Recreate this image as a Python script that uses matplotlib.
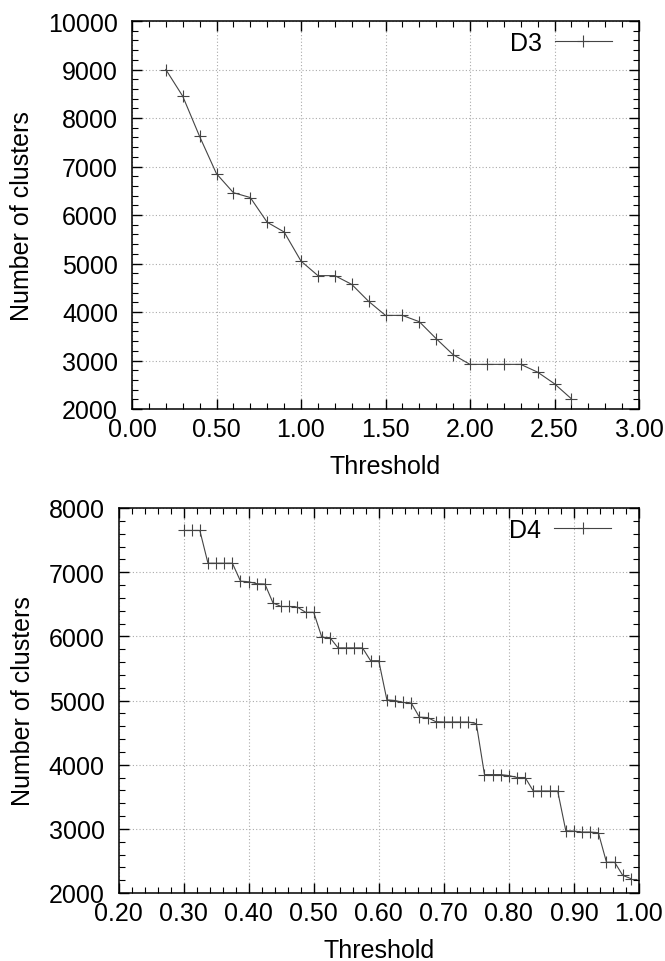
import matplotlib

matplotlib.use('Agg')

import matplotlib.pyplot as plt
from matplotlib.ticker import MultipleLocator, FormatStrFormatter

plt.rcParams['font.family'] = ['Liberation Sans', 'DejaVu Sans']

# D3 data
d3_thr = [0.2, 0.3, 0.4, 0.5, 0.6, 0.7, 0.8, 0.9, 1.0, 1.1, 1.2, 1.3, 1.4,
          1.5, 1.6, 1.7, 1.8, 1.9, 2.0, 2.1, 2.2, 2.3, 2.4, 2.5, 2.6]
d3_clusters = [9000, 8450, 7620, 6850, 6460, 6360, 5850, 5650, 5050, 4750,
               4750, 4570, 4220, 3930, 3930, 3800, 3450, 3120, 2920, 2920,
               2920, 2920, 2760, 2520, 2210]

# D4 data
d4_thr = [0.3, 0.3125, 0.325, 0.3375, 0.35, 0.3625, 0.375, 0.3875, 0.4,
          0.4125, 0.425, 0.4375, 0.45, 0.4625, 0.475, 0.4875, 0.5, 0.5125,
          0.525, 0.5375, 0.55, 0.5625, 0.575, 0.5875, 0.6, 0.6125, 0.625,
          0.6375, 0.65, 0.6625, 0.675, 0.6875, 0.7, 0.7125, 0.725, 0.7375,
          0.75, 0.7625, 0.775, 0.7875, 0.8, 0.8125, 0.825, 0.8375, 0.85,
          0.8625, 0.875, 0.8875, 0.9, 0.9125, 0.925, 0.9375, 0.95, 0.9625,
          0.975, 0.9875]
d4_clusters = [7650, 7650, 7650, 7140, 7140, 7140, 7140, 6860, 6850, 6820,
               6815, 6520, 6465, 6465, 6455, 6375, 6375, 5985, 5980, 5820,
               5820, 5820, 5820, 5620, 5620, 5010, 5000, 4970, 4960, 4740,
               4735, 4670, 4665, 4665, 4665, 4665, 4640, 3845, 3845, 3845,
               3830, 3800, 3800, 3590, 3590, 3590, 3590, 2970, 2965, 2950,
               2950, 2940, 2480, 2480, 2275, 2225]

W, H = 665, 962
fig = plt.figure(figsize=(W / 100, H / 100), dpi=100)

# axes rectangles in pixels: left, top, right, bottom
ax1 = fig.add_axes([132 / W, 1 - 410 / H, (639 - 132) / W, (410 - 22) / H])
ax2 = fig.add_axes([118.5 / W, 1 - 894 / H, (639 - 118.5) / W, (894 - 509) / H])

FS = 18
line_kw = dict(color='#444444', lw=0.8, marker='+', ms=9, mew=0.8)


def style(ax, xlim, xmaj, xmin, xfmt, ylim):
    ax.set_xlim(*xlim)
    ax.set_ylim(*ylim)
    ax.xaxis.set_major_locator(MultipleLocator(xmaj))
    ax.xaxis.set_minor_locator(MultipleLocator(xmin))
    ax.xaxis.set_major_formatter(FormatStrFormatter(xfmt))
    ax.yaxis.set_major_locator(MultipleLocator(1000))
    ax.yaxis.set_minor_locator(MultipleLocator(200))
    ax.tick_params(which='both', direction='in', top=True, right=True,
                   labelsize=FS, colors='black')
    ax.tick_params(which='major', length=7, width=1)
    ax.tick_params(which='minor', length=4, width=0.8)
    ax.tick_params(axis='x', which='major', pad=6)
    ax.tick_params(axis='y', which='major', pad=10)
    ax.grid(True, which='major', color='#aaaaaa', linestyle=(0, (1, 2)), lw=0.8)
    for s in ax.spines.values():
        s.set_linewidth(1.1)
    ax.set_xlabel('Threshold', fontsize=FS, labelpad=9)
    ax.set_ylabel('Number of clusters', fontsize=FS, labelpad=10)


ax1.plot(d3_thr, d3_clusters, label='D3', **line_kw)
style(ax1, (0, 3), 0.5, 0.1, '%.2f', (2000, 10000))
ax1.legend(loc='upper right', bbox_to_anchor=(0.947, 0.975), frameon=False,
           markerfirst=False, fontsize=FS, handlelength=2.3,
           handletextpad=0.5, borderpad=0, borderaxespad=0)

ax2.plot(d4_thr, d4_clusters, label='D4', **line_kw)
style(ax2, (0.2, 1.0), 0.1, 0.02, '%.2f', (2000, 8000))
ax2.legend(loc='upper right', bbox_to_anchor=(0.947, 0.975), frameon=False,
           markerfirst=False, fontsize=FS, handlelength=2.3,
           handletextpad=0.5, borderpad=0, borderaxespad=0)

fig.savefig('out.png', dpi=100)
